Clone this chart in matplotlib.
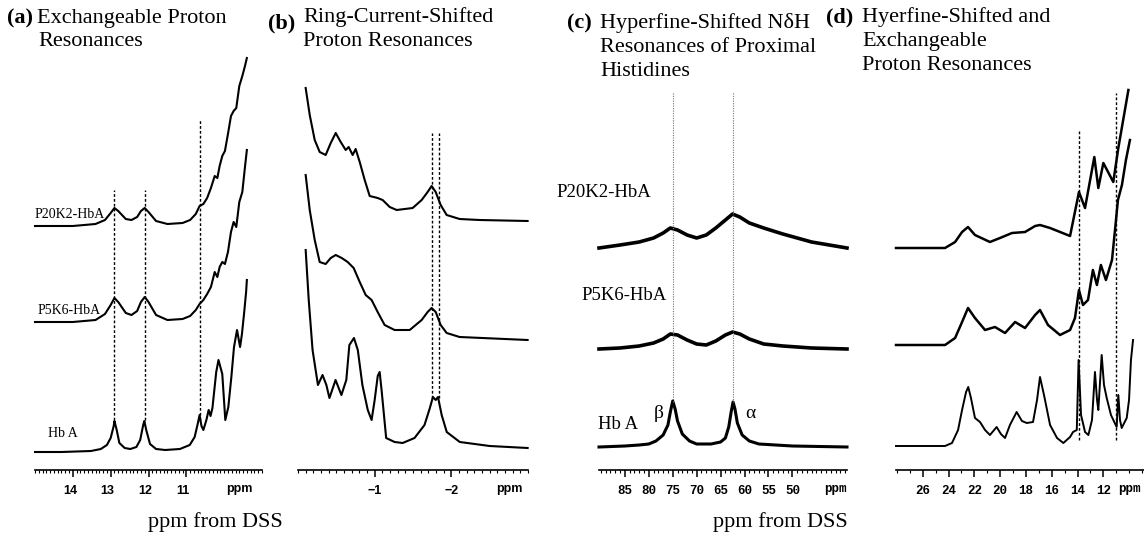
import matplotlib
matplotlib.use("Agg")
import matplotlib.pyplot as plt
import matplotlib.transforms as mtransforms
from matplotlib.ticker import MultipleLocator, FixedLocator

W, H = 1144, 533
DPI = 100

# ---------------- data (ppm, intensity above own baseline) ----------------
# Panel (a): exchangeable proton resonances
a_hba_ppm = [15.0, 14.3, 13.52, 13.26, 13.10, 13.00, 12.92, 12.90, 12.84, 12.77, 12.63, 12.48, 12.32, 12.22,
             12.14, 12.11, 12.06, 11.96, 11.80, 11.56, 11.17, 10.91, 10.78, 10.70, 10.65, 10.60, 10.55, 10.47,
             10.41, 10.36, 10.31, 10.26, 10.21, 10.15, 10.10, 10.05, 9.97, 9.89, 9.81, 9.74, 9.66, 9.58, 9.53,
             9.47, 9.42, 9.40]
a_hba_int = [0, 0, 1, 3, 7, 14, 26, 31, 22, 9, 4, 3, 5, 12, 27, 31, 22, 8, 3, 2, 3, 7, 15, 28, 37, 26, 22, 32,
             42, 36, 44, 62, 80, 92, 85, 78, 32, 45, 75, 105, 122, 105, 118, 140, 160, 172]
a_p5k6_ppm = [15.0, 14.0, 13.4, 13.15, 13.0, 12.9, 12.8, 12.6, 12.45, 12.3, 12.2, 12.1, 12.0, 11.8, 11.5, 11.1,
              10.9, 10.75, 10.65, 10.55, 10.45, 10.35, 10.25, 10.18, 10.12, 10.05, 9.98, 9.9, 9.82, 9.75, 9.68,
              9.6, 9.52, 9.45, 9.40]
a_p5k6_int = [0, 0, 2, 8, 17, 24, 20, 9, 7, 11, 20, 25, 20, 7, 2, 3, 6, 12, 18, 22, 28, 35, 50, 45, 55, 60, 58,
              70, 90, 100, 95, 120, 130, 155, 172]
a_p20k2_ppm = a_p5k6_ppm
a_p20k2_int = [0, 0, 2, 6, 13, 18, 15, 7, 6, 9, 15, 18, 14, 5, 2, 3, 6, 12, 20, 22, 28, 38, 50, 48, 60, 70, 75,
               92, 110, 115, 118, 140, 150, 160, 168]

# Panel (b): ring-current-shifted proton resonances
b_hba_ppm = [-0.10, -0.14, -0.19, -0.26, -0.32, -0.37, -0.41, -0.49, -0.566, -0.63, -0.67, -0.73, -0.78, -0.84,
             -0.91, -0.96, -1.0, -1.04, -1.065, -1.09, -1.15, -1.26, -1.365, -1.52, -1.65, -1.72, -1.76, -1.796,
             -1.826, -1.874, -1.94, -2.11, -2.50, -2.995]
b_hba_int = [198, 148, 98, 63, 73, 63, 50, 68, 53, 68, 103, 110, 98, 63, 38, 28, 48, 72, 76, 58, 10, 6, 5, 10,
             23, 40, 51, 48, 51, 33, 16, 6, 2, 0]
b_p5k6_ppm = [-0.10, -0.153, -0.218, -0.283, -0.361, -0.427, -0.492, -0.57, -0.648, -0.726, -0.805, -0.883,
              -0.96, -1.039, -1.13, -1.26, -1.457, -1.613, -1.691, -1.743, -1.796, -1.861, -1.939, -2.108, -2.995]
b_p5k6_int = [165, 130, 100, 78, 76, 82, 85, 82, 78, 72, 58, 45, 40, 28, 15, 10, 10, 20, 28, 32, 28, 15, 7, 3, 0]
b_p20k2_ppm = [-0.10, -0.153, -0.218, -0.283, -0.361, -0.427, -0.492, -0.557, -0.622, -0.661, -0.713, -0.752,
               -0.805, -0.870, -0.935, -1.039, -1.104, -1.196, -1.287, -1.496, -1.613, -1.691, -1.743, -1.796,
               -1.861, -1.939, -2.108, -2.369, -2.995]
b_p20k2_int = [133, 106, 81, 69, 66, 78, 88, 79, 71, 74, 66, 72, 59, 41, 25, 23, 21, 14, 11, 13, 21, 29, 35, 29,
               16, 6, 2, 1, 0]

# Panel (c): hyperfine-shifted N-delta-H resonances of proximal histidines
c_hba_ppm = [90.4, 85, 82, 80, 78.5, 77, 76, 75.5, 75, 74.5, 74, 73, 71.5, 70, 67, 65, 64, 63.3, 62.8, 62.4,
             62, 61.5, 60.5, 59, 57, 50, 38.6]
c_hba_int = [0, 1, 2, 3, 6, 12, 22, 35, 46, 38, 26, 13, 6, 3, 3, 5, 9, 20, 35, 45, 38, 24, 12, 6, 3, 1, 0]
c_p5k6_ppm = [90.4, 86, 82, 79, 77, 75.5, 74, 72, 70, 68, 66, 64, 62.5, 61, 59, 56, 52, 46, 38.6]
c_p5k6_int = [0, 1, 3, 6, 10, 15, 14, 9, 5, 4, 8, 14, 17, 15, 10, 5, 3, 1, 0]
c_p20k2_ppm = c_p5k6_ppm
c_p20k2_int = [2, 5, 8, 12, 17, 22, 20, 15, 12, 15, 22, 30, 36, 33, 27, 22, 16, 8, 2]

# Panel (d): hyperfine-shifted and exchangeable proton resonances
d_hba_ppm = [28.07, 24.27, 23.73, 23.26, 22.95, 22.64, 22.47, 22.26, 21.95, 21.56, 21.17, 20.79, 20.27, 19.94,
             19.62, 19.24, 18.72, 18.31, 17.94, 17.45, 17.14, 16.91, 16.60, 16.13, 15.59, 15.10, 14.58, 14.35,
             14.06, 13.92, 13.73, 13.42, 13.16, 12.88, 12.65, 12.49, 12.39, 12.13, 11.95, 11.74, 11.41, 10.97,
             10.84, 10.71, 10.58, 10.19, 10.01, 9.86, 9.70]
d_hba_int = [0, 0, 3, 16, 36, 54, 59, 48, 28, 24, 16, 11, 19, 12, 8, 21, 34, 25, 23, 24, 46, 69, 51, 21, 8, 3,
             9, 14, 16, 86, 31, 14, 11, 26, 74, 46, 36, 91, 61, 48, 31, 19, 51, 26, 18, 28, 46, 86, 106]
d_p5k6_ppm = [28.07, 24.27, 23.49, 22.95, 22.49, 21.95, 21.17, 20.40, 19.62, 18.84, 18.07, 17.29, 16.91, 16.29,
              15.36, 14.58, 14.20, 13.89, 13.58, 13.19, 12.81, 12.50, 12.19, 11.80, 11.33, 11.02, 10.87, 10.56,
              10.25, 9.94]
d_p5k6_int = [0, 0, 7, 23, 37, 27, 15, 18, 12, 23, 17, 30, 35, 20, 10, 15, 27, 55, 40, 45, 75, 60, 80, 65, 85,
              125, 145, 160, 185, 205]
d_p20k2_ppm = [28.07, 24.27, 23.49, 22.95, 22.49, 21.95, 20.79, 20.01, 19.08, 18.07, 17.29, 16.91, 16.13, 14.58,
               13.89, 13.42, 12.70, 12.39, 12.00, 11.23, 10.84, 10.06]
d_p20k2_int = [0, 0, 6, 16, 21, 13, 6, 10, 15, 16, 22, 23, 20, 12, 56, 40, 91, 60, 85, 66, 100, 158]

# dashed guide positions (ppm)
a_guides = [12.9, 12.1, 10.65]
b_guides = [-1.75, -1.84]
c_guides = [75.0, 62.4]
d_guides = [13.9, 11.0]

sample_names = ["P20K2-HbA", "P5K6-HbA", "Hb A"]

# ---------------- figure ----------------
fig = plt.figure(figsize=(W / DPI, H / DPI), dpi=DPI)
SERIF = ["Liberation Serif", "DejaVu Serif"]


def px_axes(x0, x1, ytop=0, ybot=470):
    ax = fig.add_axes([x0 / W, (H - ybot) / H, (x1 - x0) / W, (ybot - ytop) / H])
    ax.set_ylim(0, ybot - ytop)
    ax.patch.set_alpha(0)
    for s in ("left", "right", "top"):
        ax.spines[s].set_visible(False)
    ax.spines["bottom"].set_linewidth(1.2)
    ax.set_yticks([])
    ax.tick_params(axis="x", which="major", direction="out", length=5, width=1.1, pad=6)
    ax.tick_params(axis="x", which="minor", direction="out", length=2.5, width=0.8)
    return ax


def shift_labels(ax, dx_px):
    off = mtransforms.ScaledTranslation(dx_px / DPI, 0, fig.dpi_scale_trans)
    for lab in ax.get_xticklabels():
        lab.set_transform(lab.get_transform() + off)


def trace(ax, ppm, inten, base_px, lw=1.5):
    ax.plot(ppm, [470 - base_px + v for v in inten], color="black", lw=lw, clip_on=False,
            solid_joinstyle="round")


def ftext(x, y, s, **kw):
    fig.text(x / W, 1 - y / H, s, **kw)


# Panel (a)
axa = px_axes(35, 262)
axa.set_xlim(15.0, 9.0)
axa.xaxis.set_major_locator(FixedLocator([14, 13, 12, 11]))
axa.xaxis.set_minor_locator(MultipleLocator(0.1))
axa.set_xticklabels(["14", "13", "12", "11"], family="Liberation Sans", weight="bold", fontsize=9)
shift_labels(axa, -3)
trace(axa, a_p20k2_ppm, a_p20k2_int, 226)
trace(axa, a_p5k6_ppm, a_p5k6_int, 322)
trace(axa, a_hba_ppm, a_hba_int, 452)
for g, top in zip(a_guides, [190, 190, 120]):
    axa.plot([g, g], [470 - 420, 470 - top], color="black", lw=1.0, ls=(0, (2, 1.5)), clip_on=False)
axa.text(9.6, -13, "ppm", ha="center", va="top", family="Liberation Sans", weight="bold", fontsize=9)

# Panel (b)
axb = px_axes(298, 528)
axb.set_xlim(0.0, -3.0)
axb.xaxis.set_major_locator(FixedLocator([-1, -2]))
axb.xaxis.set_minor_locator(MultipleLocator(0.1))
axb.set_xticklabels(["\u22121", "\u22122"], family="Liberation Sans", weight="bold", fontsize=9)
trace(axb, b_p20k2_ppm, b_p20k2_int, 221)
trace(axb, b_p5k6_ppm, b_p5k6_int, 340)
trace(axb, b_hba_ppm, b_hba_int, 448)
for g in b_guides:
    axb.plot([g, g], [470 - 398, 470 - 133], color="black", lw=1.0, ls=(0, (2, 1.5)), clip_on=False)
axb.text(-2.76, -13, "ppm", ha="center", va="top", family="Liberation Sans", weight="bold", fontsize=9)

# Panel (c)
axc = px_axes(599, 847)
axc.set_xlim(90.4, 38.6)
axc.xaxis.set_major_locator(FixedLocator([85, 80, 75, 70, 65, 60, 55, 50]))
axc.xaxis.set_minor_locator(MultipleLocator(1))
axc.set_xticklabels([str(v) for v in [85, 80, 75, 70, 65, 60, 55, 50]], family="Liberation Mono",
                    weight="bold", fontsize=9)
trace(axc, c_p20k2_ppm, c_p20k2_int, 250, lw=2.6)
trace(axc, c_p5k6_ppm, c_p5k6_int, 349, lw=2.6)
trace(axc, c_hba_ppm, c_hba_int, 447, lw=2.2)
for g in c_guides:
    axc.plot([g, g], [470 - 402, 470 - 92], color="0.45", lw=0.8, ls=(0, (1, 1.2)), clip_on=False)
axc.text(41.1, -13, "ppm", ha="center", va="top", family="Liberation Mono", weight="bold", fontsize=9)
axc.text(76.8, 470 - 413, "\u03b2", ha="right", va="center", family=SERIF, fontsize=14)
axc.text(59.8, 470 - 413, "\u03b1", ha="left", va="center", family=SERIF, fontsize=14)

# Panel (d)
axd = px_axes(896, 1144)
axd.set_xlim(28.07, 8.85)
axd.xaxis.set_major_locator(FixedLocator([26, 24, 22, 20, 18, 16, 14, 12]))
axd.xaxis.set_minor_locator(MultipleLocator(1))
axd.set_xticklabels([str(v) for v in [26, 24, 22, 20, 18, 16, 14, 12]], family="Liberation Mono",
                    weight="bold", fontsize=9)
trace(axd, d_p20k2_ppm, d_p20k2_int, 248, lw=1.8)
trace(axd, d_p5k6_ppm, d_p5k6_int, 345, lw=1.8)
trace(axd, d_hba_ppm, d_hba_int, 446, lw=1.4)
for g, top in zip(d_guides, [130, 93]):
    axd.plot([g, g], [470 - 440, 470 - top], color="black", lw=1.0, ls=(0, (2, 1.5)), clip_on=False)
axd.text(10.0, -13, "ppm", ha="center", va="top", family="Liberation Mono", weight="bold", fontsize=9)

# sample labels
for (x, y, fs), name in zip([(35, 218, 10), (38, 314, 10), (48, 437, 10)], sample_names):
    ftext(x, y, name, family=SERIF, fontsize=fs, va="baseline")
for (x, y, fs), name in zip([(556, 197, 13.5), (581, 300, 13.5), (598, 429, 13.5)], sample_names):
    ftext(x, y, name, family=SERIF, fontsize=fs, va="baseline")

# titles
TF = 16
ftext(7, 23, "(a)", family=SERIF, weight="bold", fontsize=TF, va="baseline")
ftext(37, 23, "Exchangeable Proton", family=SERIF, fontsize=TF, va="baseline")
ftext(38, 46, "Resonances", family=SERIF, fontsize=TF, va="baseline")
ftext(268, 28, "(b)", family=SERIF, weight="bold", fontsize=TF, va="baseline")
ftext(303, 22, "Ring-Current-Shifted", family=SERIF, fontsize=TF, va="baseline")
ftext(303, 46, "Proton Resonances", family=SERIF, fontsize=TF, va="baseline")
ftext(567, 28, "(c)", family=SERIF, weight="bold", fontsize=TF, va="baseline")
ftext(600, 28, "Hyperfine-Shifted N\u03b4H", family=SERIF, fontsize=TF, va="baseline")
ftext(600, 52, "Resonances of Proximal", family=SERIF, fontsize=TF, va="baseline")
ftext(600, 76, "Histidines", family=SERIF, fontsize=TF, va="baseline")
ftext(826, 22, "(d)", family=SERIF, weight="bold", fontsize=TF, va="baseline")
ftext(862, 22, "Hyerfine-Shifted and", family=SERIF, fontsize=TF, va="baseline")
ftext(862, 46, "Exchangeable", family=SERIF, fontsize=TF, va="baseline")
ftext(862, 70, "Proton Resonances", family=SERIF, fontsize=TF, va="baseline")

# bottom axis captions
ftext(215, 527, "ppm from DSS", family=SERIF, fontsize=TF, ha="center", va="baseline")
ftext(780, 527, "ppm from DSS", family=SERIF, fontsize=TF, ha="center", va="baseline")

fig.savefig("out.png", dpi=DPI)
